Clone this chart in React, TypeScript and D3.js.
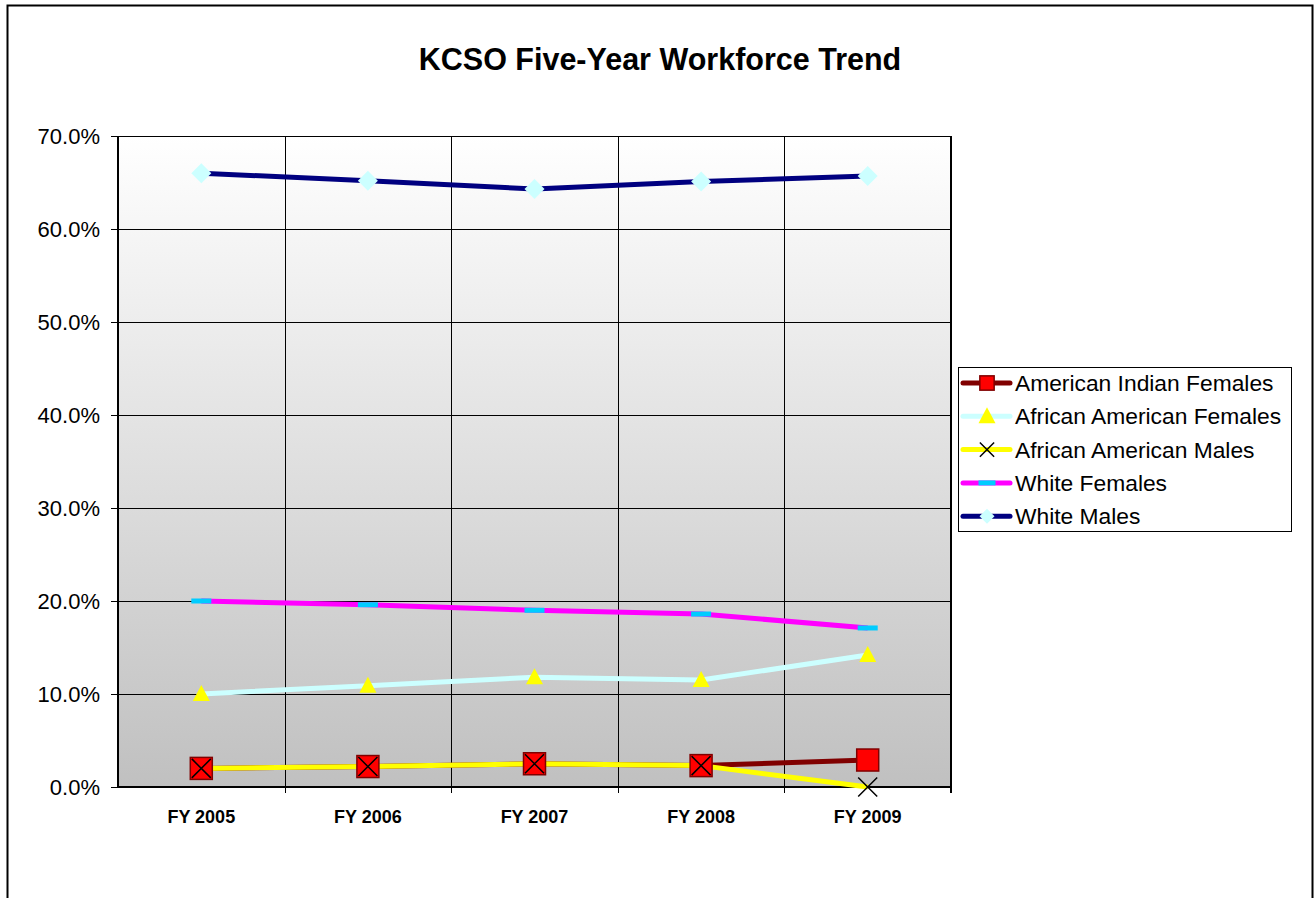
import { useEffect, useRef } from "react";
import * as d3 from "d3";

const years = ["FY 2005", "FY 2006", "FY 2007", "FY 2008", "FY 2009"];
const americanIndianFemales = [2.0, 2.2, 2.5, 2.3, 2.9];
const africanAmericanFemales = [10.0, 10.9, 11.8, 11.5, 14.2];
const africanAmericanMales = [2.0, 2.2, 2.5, 2.3, 0.0];
const whiteFemales = [20.0, 19.6, 19.0, 18.6, 17.1];
const whiteMales = [66.0, 65.2, 64.3, 65.1, 65.7];
const yTicks = [0, 10, 20, 30, 40, 50, 60, 70];

const series = [
  { name: "American Indian Females", values: americanIndianFemales, line: "#800000", marker: "square" },
  { name: "African American Females", values: africanAmericanFemales, line: "#ccffff", marker: "triangle" },
  { name: "African American Males", values: africanAmericanMales, line: "#ffff00", marker: "x" },
  { name: "White Females", values: whiteFemales, line: "#ff00ff", marker: "bar" },
  { name: "White Males", values: whiteMales, line: "#000080", marker: "diamond" },
];

const plot = { left: 118, right: 951, top: 136, bottom: 787 };
const font = "Arial, 'Liberation Sans', sans-serif";

// draws a marker centred on 0,0 ; s = scale factor (1 in plot, smaller in legend)
const drawMarker = (g: any, kind: string, s: number) => {
  if (kind === "square") {
    const h = 11 * s;
    g.append("rect").attr("x", -h).attr("y", -h).attr("width", 2 * h).attr("height", 2 * h)
      .attr("fill", "#ff0000").attr("stroke", "#800000").attr("stroke-width", 1.5);
  } else if (kind === "triangle") {
    const w = 8.5 * s, h = 8 * s;
    g.append("path").attr("d", `M0,${-h - 1}L${w},${h - 1}L${-w},${h - 1}Z`).attr("fill", "#ffff00");
  } else if (kind === "x") {
    const h = 9.5 * s;
    g.append("path").attr("d", `M${-h},${-h}L${h},${h}M${-h},${h}L${h},${-h}`)
      .attr("stroke", "#000").attr("stroke-width", 1.5);
  } else if (kind === "bar") {
    const w = 10 * s;
    g.append("rect").attr("x", -w).attr("y", -2.5).attr("width", 2 * w).attr("height", 5).attr("fill", "#00ccff");
  } else if (kind === "diamond") {
    const h = 10 * s;
    g.append("path").attr("d", `M0,${-h}L${h},0L0,${h}L${-h},0Z`).attr("fill", "#ccffff");
  }
};

const legendScale: Record<string, number> = { square: 0.65, triangle: 1, x: 0.75, bar: 0.85, diamond: 0.75 };

export default function App() {
  const ref = useRef<SVGSVGElement>(null);

  useEffect(() => {
    const svg = d3.select(ref.current);
    svg.selectAll("*").remove();

    const x = d3.scaleBand<string>().domain(years).range([plot.left, plot.right]);
    const cx = (d: string) => x(d)! + x.bandwidth() / 2;
    const y = d3.scaleLinear().domain([0, 70]).range([plot.bottom, plot.top]);

    const defs = svg.append("defs");
    const grad = defs.append("linearGradient").attr("id", "bg").attr("x1", 0).attr("y1", 0).attr("x2", 0).attr("y2", 1);
    grad.append("stop").attr("offset", "0%").attr("stop-color", "#ffffff");
    grad.append("stop").attr("offset", "100%").attr("stop-color", "#c0c0c0");

    svg.append("rect").attr("x", 0).attr("y", 0).attr("width", 1316).attr("height", 898).attr("fill", "#fff");
    svg.append("rect").attr("x", 7.5).attr("y", 5.5).attr("width", 1305).attr("height", 1000)
      .attr("fill", "none").attr("stroke", "#000").attr("stroke-width", 2);

    svg.append("text").attr("x", 660).attr("y", 70).attr("text-anchor", "middle")
      .attr("font-family", font).attr("font-weight", "bold").attr("font-size", 30.5)
      .text("KCSO Five-Year Workforce Trend");

    svg.append("rect").attr("x", plot.left).attr("y", plot.top)
      .attr("width", plot.right - plot.left).attr("height", plot.bottom - plot.top).attr("fill", "url(#bg)");

    // horizontal grid + y ticks
    yTicks.forEach((t) => {
      svg.append("line").attr("x1", plot.left - 7).attr("x2", plot.right)
        .attr("y1", Math.round(y(t)) + 0.5).attr("y2", Math.round(y(t)) + 0.5)
        .attr("stroke", "#000").attr("stroke-width", 1);
      svg.append("text").attr("x", 100).attr("y", y(t) + 8).attr("text-anchor", "end")
        .attr("font-family", font).attr("font-size", 22).text(d3.format(".1f")(t) + "%");
    });

    // vertical grid at category boundaries
    years.forEach((d, i) => {
      const bx = Math.round(x(d)!) + 0.5;
      if (i > 0) {
        svg.append("line").attr("x1", bx).attr("x2", bx).attr("y1", plot.top).attr("y2", plot.bottom + 6)
          .attr("stroke", "#000").attr("stroke-width", 1);
      }
      svg.append("text").attr("x", cx(d)).attr("y", 823).attr("text-anchor", "middle")
        .attr("font-family", font).attr("font-weight", "bold").attr("font-size", 18).text(d);
    });

    svg.append("line").attr("x1", plot.right).attr("x2", plot.right).attr("y1", plot.top).attr("y2", plot.bottom + 6)
      .attr("stroke", "#000").attr("stroke-width", 2);
    svg.append("line").attr("x1", plot.left).attr("x2", plot.left).attr("y1", plot.top).attr("y2", plot.bottom)
      .attr("stroke", "#000").attr("stroke-width", 2);
    svg.append("line").attr("x1", plot.left).attr("x2", plot.right).attr("y1", plot.bottom).attr("y2", plot.bottom)
      .attr("stroke", "#000").attr("stroke-width", 2);

    const line = d3.line<number>().x((_, i) => cx(years[i])).y((v) => y(v));

    series.forEach((s) => {
      svg.append("path").attr("d", line(s.values)!).attr("fill", "none")
        .attr("stroke", s.line).attr("stroke-width", 5).attr("stroke-linejoin", "round");
    });
    series.forEach((s) => {
      s.values.forEach((v, i) => {
        const g = svg.append("g").attr("transform", `translate(${cx(years[i])},${y(v)})`);
        drawMarker(g, s.marker, 1);
      });
    });

    // legend
    const lg = svg.append("g");
    lg.append("rect").attr("x", 958.5).attr("y", 367.5).attr("width", 333).attr("height", 164)
      .attr("fill", "#fff").attr("stroke", "#000").attr("stroke-width", 1);
    series.forEach((s, i) => {
      const ly = 383 + i * 33.3;
      lg.append("line").attr("x1", 963).attr("x2", 1010).attr("y1", ly).attr("y2", ly)
        .attr("stroke", s.line).attr("stroke-width", 5).attr("stroke-linecap", "round");
      const g = lg.append("g").attr("transform", `translate(987,${ly})`);
      drawMarker(g, s.marker, legendScale[s.marker]);
      lg.append("text").attr("x", 1015).attr("y", ly + 8).attr("font-family", font).attr("font-size", 22.8).text(s.name);
    });
  }, []);

  return (
    <svg ref={ref} width={1316} height={898} style={{ position: "absolute", left: 0, top: 0 }} />
  );
}
